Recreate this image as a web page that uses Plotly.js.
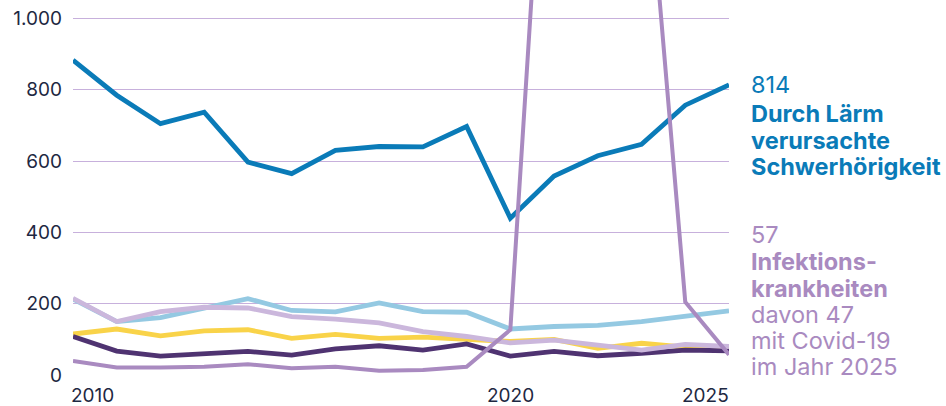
<!DOCTYPE html>
<html>
<head>
<meta charset="utf-8">
<script src="https://cdn.plot.ly/plotly-3.0.1.min.js"></script>
<style>
html,body{margin:0;padding:0;background:#fff;}
#chart{width:946px;height:406px;}
</style>
</head>
<body>
<div id="chart"></div>
<script>
const years = [2010,2011,2012,2013,2014,2015,2016,2017,2018,2019,2020,2021,2022,2023,2024,2025];
const laerm = [883,785,705,737,597,565,630,641,640,697,440,558,615,647,757,814];
const hellblau = [213,150,161,188,214,181,177,202,178,176,129,136,139,150,166,180];
const gelb = [115,129,110,124,127,103,114,103,106,100,94,100,75,89,78,75];
const dunkel = [108,67,53,59,66,56,73,82,70,87,53,66,54,61,70,68];
const flieder = [215,150,178,190,188,164,157,146,122,108,90,98,84,70,86,80];
const infekt = [39,21,21,23,30,19,23,12,14,23,127,2050,2300,1650,205,57];

const yTickVals = [0,200,400,600,800,1000];
const yTickText = ["0","200","400","600","800","1.000"];
const xLabelYears = [2010,2020,2025];
const xLabelText = ["2010","2020","2025"];

const laermLines = ["814","<b>Durch Lärm</b>","<b>verursachte</b>","<b>Schwerhörigkeit</b>"];
const infektLines = ["57","<b>Infektions-</b>","<b>krankheiten</b>","davon 47","mit Covid-19","im Jahr 2025"];
const laermLineOffsets = [84,113.5,140.5,166.5];
const infektLineOffsets = [234,261.5,288.5,314,340.5,366.5];

const C = {
  blue:'#0a7bb8', light:'#94c9e2', yellow:'#f9d349', dark:'#4f3371', lilac:'#cbb7dc', purple:'#a98ac0',
  grid:'#c7b0dc', text:'#1e2842'
};
const FONT = 'Inter, "Noto Sans", sans-serif';

function tr(y, color, w){
  return {x: years, y: y, type:'scatter', mode:'lines', hoverinfo:'skip',
    line:{color:color, width:w, shape:'linear'}};
}
const data = [
  tr(laerm, C.blue, 4.8),
  tr(hellblau, C.light, 4.8),
  tr(gelb, C.yellow, 4.8),
  tr(dunkel, C.dark, 4.8),
  tr(flieder, C.lilac, 4.8),
  tr(infekt, C.purple, 4)
];

const annotations = [];
xLabelYears.forEach((yr,i)=>{
  annotations.push({
    x: yr, xref:'x', y:0, yref:'paper', yanchor:'top', yshift:-7,
    xanchor: i===0 ? 'left' : (i===xLabelYears.length-1 ? 'right' : 'center'),
    xshift: i===0 ? -4 : (i===xLabelYears.length-1 ? 2 : 0),
    text: xLabelText[i], showarrow:false,
    font:{family:FONT, size:19, color:C.text}
  });
});
function sideLabels(lines, offsets, color){
  lines.forEach((t,i)=>{
    annotations.push({
      x:1, xref:'paper', y:1, yref:'paper', xanchor:'left', yanchor:'middle',
      xshift:20, yshift:-offsets[i], text:t, showarrow:false, align:'left',
      font:{family:FONT, size:23.5, color:color}
    });
  });
}
sideLabels(laermLines, laermLineOffsets, C.blue);
sideLabels(infektLines, infektLineOffsets, C.purple);

const layout = {
  width:946, height:406,
  margin:{l:73, r:217, t:0, b:31, pad:0},
  paper_bgcolor:'#fff', plot_bgcolor:'#fff',
  showlegend:false,
  xaxis:{range:[2010,2025], showgrid:false, zeroline:false, showticklabels:false, ticks:'', showline:false, fixedrange:true},
  yaxis:{range:[0,1052], tickvals:yTickVals, ticktext:yTickText, showgrid:true, gridcolor:C.grid, gridwidth:1,
    zeroline:false, showline:false, ticks:'', ticklabelstandoff:10,
    tickfont:{family:FONT, size:19, color:C.text}, fixedrange:true},
  annotations: annotations
};
Plotly.newPlot('chart', data, layout, {staticPlot:true, displayModeBar:false});
</script>
</body>
</html>
